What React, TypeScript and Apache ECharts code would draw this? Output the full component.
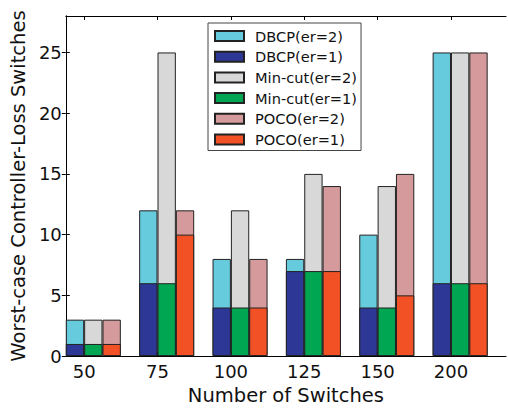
import React, { useEffect, useRef } from "react";
import * as echarts from "echarts";

const categories = ["50", "75", "100", "125", "150", "200"];
const dbcpEr2 = [3, 12, 8, 8, 10, 25];
const dbcpEr1 = [1, 6, 4, 7, 4, 6];
const mincutEr2 = [3, 25, 12, 15, 14, 25];
const mincutEr1 = [1, 6, 4, 7, 4, 6];
const pocoEr2 = [3, 12, 8, 14, 15, 25];
const pocoEr1 = [1, 10, 4, 7, 5, 6];
const yTicks = [0, 5, 10, 15, 20, 25];

const FONT = "DejaVu Sans";
const EDGE = "#222222";

export default function App() {
  const ref = useRef<HTMLDivElement>(null);

  useEffect(() => {
    document.body.style.margin = "0";
    if (!ref.current) return;
    const chart = echarts.init(ref.current, null, { renderer: "svg" });

    // tick positions: second bar slot of each group (band start + 1/4)
    const tickPos = categories.map((_, i) => i + 0.25);

    const barBase = (
      name: string,
      data: number[] | string[],
      color: string,
      axis: number,
      z: number
    ) => ({
      name,
      type: "bar",
      xAxisIndex: axis,
      yAxisIndex: 0,
      data,
      z,
      barGap: "0%",
      barCategoryGap: "0%",
      itemStyle: { color, borderColor: EDGE, borderWidth: 1 },
      emphasis: { disabled: true },
    });

    const spacer = categories.map(() => "-");

    chart.setOption({
      animation: false,
      backgroundColor: "#ffffff",
      grid: { left: 60, right: 2, top: 16, bottom: 51, containLabel: false },
      legend: {
        data: [
          "DBCP(er=2)",
          "DBCP(er=1)",
          "Min-cut(er=2)",
          "Min-cut(er=1)",
          "POCO(er=2)",
          "POCO(er=1)",
        ],
        orient: "vertical",
        left: 208,
        top: 23,
        icon: "rect",
        itemWidth: 29,
        itemHeight: 10,
        itemGap: 4.7,
        padding: [5, 4, 3, 6],
        backgroundColor: "#ffffff",
        borderColor: "#444444",
        borderWidth: 1,
        borderRadius: 0,
        selectedMode: false,
        textStyle: {
          fontFamily: FONT,
          fontSize: 14.6,
          color: "#111111",
          lineHeight: 16,
          padding: [0, 0, 0, 6],
        },
      },
      xAxis: [
        { type: "category", data: categories, show: false, position: "bottom" },
        { type: "category", data: categories, show: false, position: "bottom" },
        {
          type: "value",
          min: 0,
          max: 6,
          position: "bottom",
          axisLine: { show: true, lineStyle: { color: "#000", width: 1 } },
          axisTick: {
            show: true,
            inside: true,
            length: 4,
            customValues: tickPos,
            lineStyle: { color: "#000" },
          },
          axisLabel: {
            show: true,
            customValues: tickPos,
            formatter: (v: number) => categories[Math.round(v - 0.25)] ?? "",
            fontFamily: FONT,
            fontSize: 18,
            color: "#111",
            margin: 6,
          },
          splitLine: { show: false },
          name: "Number of Switches",
          nameLocation: "middle",
          nameGap: 27,
          nameTextStyle: { fontFamily: FONT, fontSize: 19.5, color: "#111" },
        },
        {
          type: "value",
          min: 0,
          max: 6,
          position: "top",
          axisLine: { show: true, lineStyle: { color: "#000", width: 1 } },
          axisTick: {
            show: true,
            inside: true,
            length: 4,
            customValues: tickPos,
            lineStyle: { color: "#000" },
          },
          axisLabel: { show: false },
          splitLine: { show: false },
        },
      ],
      yAxis: [
        {
          type: "value",
          min: 0,
          max: 28,
          interval: 5,
          position: "left",
          axisLine: { show: true, lineStyle: { color: "#000", width: 1 } },
          axisTick: {
            show: true,
            inside: true,
            length: 4,
            customValues: yTicks,
            lineStyle: { color: "#000" },
          },
          axisLabel: {
            customValues: yTicks,
            fontFamily: FONT,
            fontSize: 18,
            color: "#111",
            margin: 4,
          },
          splitLine: { show: false },
          name: "Worst-case Controller-Loss Switches",
          nameLocation: "middle",
          nameGap: 34,
          nameTextStyle: { fontFamily: FONT, fontSize: 19.5, color: "#111" },
        },
        {
          type: "value",
          min: 0,
          max: 28,
          interval: 5,
          position: "right",
          axisLine: { show: true, lineStyle: { color: "#000", width: 1 } },
          axisTick: {
            show: true,
            inside: true,
            length: 4,
            customValues: yTicks,
            lineStyle: { color: "#000" },
          },
          axisLabel: { show: false },
          splitLine: { show: false },
        },
      ],
      series: [
        // er=2 bars behind
        barBase("DBCP(er=2)", dbcpEr2, "#66cbdd", 0, 2),
        barBase("Min-cut(er=2)", mincutEr2, "#d8d8d9", 0, 2),
        barBase("POCO(er=2)", pocoEr2, "#d59a9b", 0, 2),
        barBase("gap-a", spacer, "transparent", 0, 2),
        // er=1 bars in front
        barBase("DBCP(er=1)", dbcpEr1, "#2c3796", 1, 3),
        barBase("Min-cut(er=1)", mincutEr1, "#00a651", 1, 3),
        barBase("POCO(er=1)", pocoEr1, "#f15125", 1, 3),
        barBase("gap-b", spacer, "transparent", 1, 3),
      ],
    });

    return () => chart.dispose();
  }, []);

  return <div ref={ref} style={{ width: 508, height: 410 }} />;
}
